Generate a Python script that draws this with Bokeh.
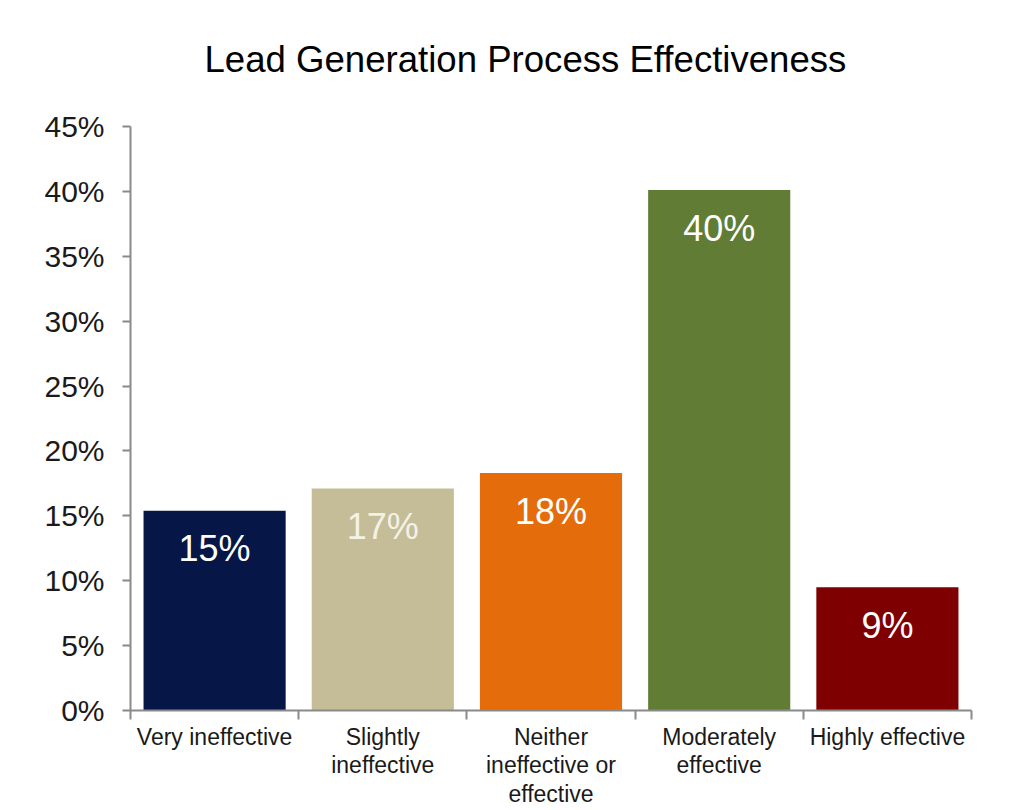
from bokeh.plotting import figure
from bokeh.models import FixedTicker, NumeralTickFormatter, Range1d, ColumnDataSource
from bokeh.core.properties import value
from bokeh.embed import file_html
from bokeh.resources import INLINE

title = "Lead Generation Process Effectiveness"
categories = ["Very ineffective", "Slightly\nineffective", "Neither\nineffective or\neffective",
              "Moderately\neffective", "Highly effective"]
values = [0.154, 0.171, 0.183, 0.401, 0.095]
labels = ["15%", "17%", "18%", "40%", "9%"]
colors = ["#061747", "#c4bd97", "#e46c0a", "#617d35", "#7f0000"]
label_colors = ["#ffffff", "#f4f1e6", "#ffffff", "#ffffff", "#ffffff"]
y_ticks = [0.0, 0.05, 0.10, 0.15, 0.20, 0.25, 0.30, 0.35, 0.40, 0.45]

FONT = "Liberation Sans"
AXIS_COLOR = "#8a8a8a"

centers = [i + 0.5 for i in range(len(categories))]
bounds = [float(i) for i in range(len(categories) + 1)]

src = ColumnDataSource(dict(x=centers, top=values, color=colors, label=labels, lc=label_colors))

p = figure(width=1008, height=819, output_backend="svg", toolbar_location=None,
           x_range=Range1d(0, len(categories)), y_range=Range1d(0, y_ticks[-1]),
           frame_width=841, frame_height=584,
           min_border_left=130, min_border_right=37, min_border_top=127, min_border_bottom=97)
p.styles = {"margin-top": "-10px"}

p.title.text = title
p.title.text_font = FONT
p.title.text_font_size = "36.6px"
p.title.text_font_style = "normal"
p.title.text_color = "#000000"
p.title.align = "left"
p.title.standoff = 93
p.title.offset = 74

p.vbar(x="x", top="top", width=0.845, bottom=0, fill_color="color", line_color=None, source=src)
p.text(x="x", y="top", text="label", text_color="lc", text_font=value(FONT), text_font_size="36px",
       text_align="center", text_baseline="middle", y_offset=38, source=src)

p.grid.visible = False
p.outline_line_color = None
p.background_fill_color = "white"
p.border_fill_color = "white"

# y axis
ya = p.yaxis[0]
ya.ticker = FixedTicker(ticks=y_ticks)
ya.formatter = NumeralTickFormatter(format="0%")
ya.major_label_text_font = FONT
ya.major_label_text_font_size = "30px"
ya.major_label_text_color = "#1a1a1a"
ya.axis_line_color = AXIS_COLOR
ya.axis_line_width = 2
ya.major_tick_line_color = AXIS_COLOR
ya.major_tick_line_width = 2
ya.major_tick_out = 8
ya.major_tick_in = 0
ya.minor_tick_line_color = None
ya.major_label_standoff = 18

# x axis
xa = p.xaxis[0]
xa.ticker = FixedTicker(ticks=centers, minor_ticks=bounds)
xa.major_label_overrides = {c: lab for c, lab in zip(centers, categories)}
xa.major_label_text_font = FONT
xa.major_label_text_font_size = "23px"
xa.major_label_text_line_height = 1.1
xa.major_label_text_color = "#1a1a1a"
xa.major_label_text_align = "center"
xa.axis_line_color = AXIS_COLOR
xa.axis_line_width = 2
xa.major_tick_line_color = None
xa.major_tick_out = 0
xa.major_tick_in = 0
xa.minor_tick_line_color = AXIS_COLOR
xa.minor_tick_line_width = 2
xa.minor_tick_out = 9
xa.minor_tick_in = 0
xa.major_label_standoff = 4

open("out.html", "w").write(file_html(p, INLINE))
